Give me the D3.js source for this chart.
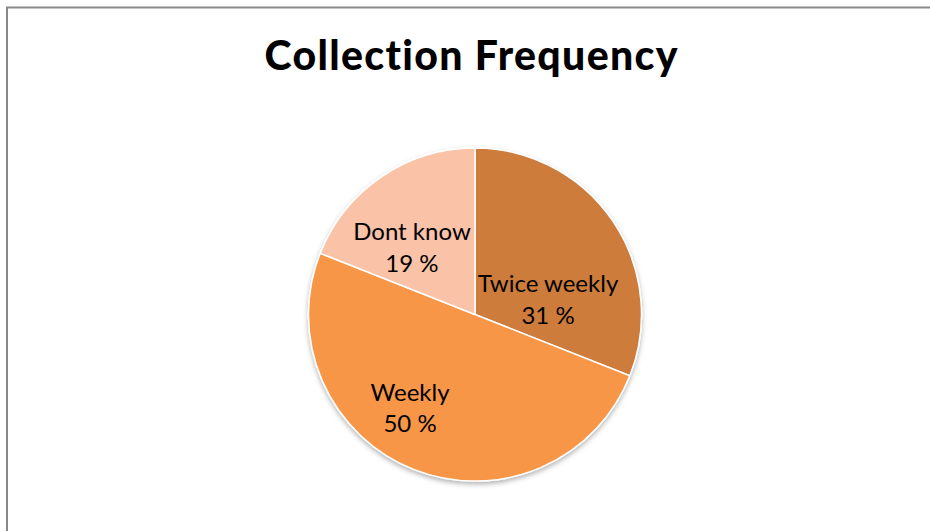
<!DOCTYPE html>
<html>
<head>
<meta charset="utf-8">
<script src="https://cdn.jsdelivr.net/npm/d3@7"></script>
<style>
  html, body { margin: 0; padding: 0; background: #fff; }
  svg { display: block; }
  text { font-variant-ligatures: none; }
</style>
</head>
<body>
<svg id="chart" width="930" height="531"></svg>
<script>
// Collection frequency shares (percent)
const categories = ["Twice weekly", "Weekly", "Dont know"];
const values = [31, 50, 19];
const colors = ["#CD7B3A", "#F79646", "#FAC2A6"];

// Label placement per slice: angle shift (deg) from the slice middle and radius fraction
const labelPlacement = [
  { dAngle: 23, rFrac: 0.447 },
  { dAngle: 13, rFrac: 0.687 },
  { dAngle: -9.3, rFrac: 0.55 }
];

const W = 930, H = 531;
const cx = 475, cy = 314.5, R = 166.5;
const svg = d3.select("#chart");

// chart frame
svg.append("path")
  .attr("d", `M7,${H} L7,7.5 L${W},7.5`)
  .attr("fill", "none")
  .attr("stroke", "#898989")
  .attr("stroke-width", 2);

// title
svg.append("text")
  .attr("x", cx - 4)
  .attr("y", 70)
  .attr("text-anchor", "middle")
  .attr("font-family", "Lato, 'Open Sans', sans-serif")
  .attr("font-weight", "900")
  .attr("font-size", 41)
  .attr("textLength", 413)
  .attr("lengthAdjust", "spacing")
  .attr("fill", "#000")
  .text("Collection Frequency");

const defs = svg.append("defs");
const f = defs.append("filter").attr("id", "shadow")
  .attr("x", "-20%").attr("y", "-20%").attr("width", "140%").attr("height", "140%");
f.append("feDropShadow")
  .attr("dx", 0).attr("dy", 2.5).attr("stdDeviation", 2.5)
  .attr("flood-color", "#000").attr("flood-opacity", 0.3);

const data = categories.map((c, i) => ({ name: c, value: values[i], color: colors[i], place: labelPlacement[i] }));

const pie = d3.pie().sort(null).value(d => d.value);
const arcs = pie(data);
const arc = d3.arc().innerRadius(0).outerRadius(R);

const g = svg.append("g").attr("transform", `translate(${cx},${cy})`);

g.append("g").attr("filter", "url(#shadow)")
  .selectAll("path")
  .data(arcs)
  .join("path")
  .attr("d", arc)
  .attr("fill", d => d.data.color)
  .attr("stroke", "#fff")
  .attr("stroke-width", 1.5)
  .attr("stroke-linejoin", "round");

const fontFam = "Lato, 'Open Sans', sans-serif";
const labels = g.selectAll("text.lbl")
  .data(arcs)
  .join("text")
  .attr("class", "lbl")
  .attr("text-anchor", "middle")
  .attr("font-family", fontFam)
  .attr("font-size", 24)
  .attr("fill", "#000")
  .attr("transform", d => {
    const mid = (d.startAngle + d.endAngle) / 2 + d.data.place.dAngle * Math.PI / 180;
    const r = d.data.place.rFrac * R;
    return `translate(${r * Math.sin(mid)},${-r * Math.cos(mid)})`;
  });

labels.append("tspan").attr("x", 0).attr("y", -8).text(d => d.data.name);
labels.append("tspan").attr("x", 0).attr("y", 23.5).text(d => `${d.data.value} %`);
</script>
</body>
</html>
